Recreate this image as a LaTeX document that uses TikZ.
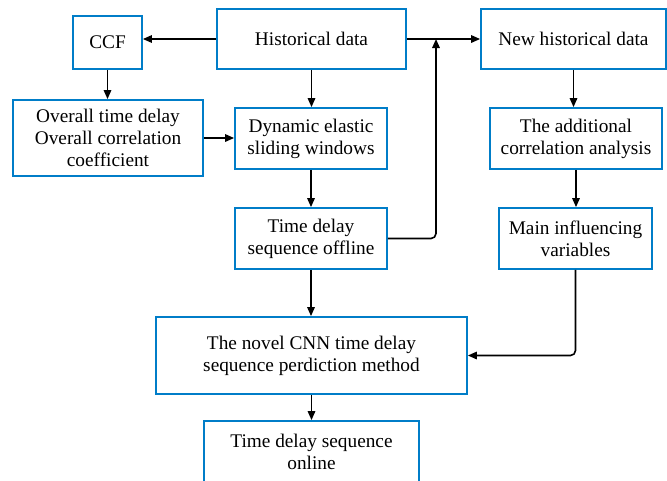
\documentclass[tikz,border=0pt]{standalone}
\usepackage{fontspec}
\setmainfont{Liberation Serif}
\newfontfamily\boxfont{Liberation Serif}
\usetikzlibrary{arrows.meta}
\definecolor{boxblue}{RGB}{0,125,200}
\begin{document}
\begin{tikzpicture}[x=1pt,y=-1pt,
  box/.style={draw=boxblue, line width=1.8pt, fill=white, inner sep=0pt, align=center,
    font=\boxfont\fontsize{19.3pt}{22pt}\selectfont},
  arr/.style={-{Triangle[length=9pt,width=7.5pt]}, line width=1.6pt, black}]
\useasboundingbox (0,0) rectangle (667,480);
\clip (0,0) rectangle (667,480);
\node[box, minimum width=69pt, minimum height=53pt] (ccf) at (107.5,42.5) {CCF};
\node[box, minimum width=189pt, minimum height=60pt] (hist) at (311.5,39) {Historical data};
\node[box, minimum width=185pt, minimum height=60pt] (new) at (573.5,39) {New historical data};
\node[box, minimum width=190pt, minimum height=76pt] (ov) at (108,138) {Overall time delay\\Overall correlation\\coefficient};
\node[box, minimum width=152pt, minimum height=61pt] (dyn) at (311,138.5) {Dynamic elastic\\sliding windows};
\node[box, minimum width=172pt, minimum height=61pt] (add) at (576,138.5) {The additional\\correlation analysis};
\node[box, minimum width=152pt, minimum height=61pt] (off) at (311,238.5) {Time delay\\sequence offline};
\node[box, minimum width=153pt, minimum height=61pt] (main) at (575.5,238.5) {Main influencing\\variables};
\node[box, minimum width=311pt, minimum height=77pt] (nov) at (311.5,355.5) {The novel CNN time delay\\sequence perdiction method};
\node[box, minimum width=215pt, minimum height=62pt] (onl) at (311.5,452) {Time delay sequence\\online};
\coordinate (j) at (436,39);
\draw[arr] (hist.west) -- (hist.west -| ccf.east);
\draw[arr] (ccf.south) -- (ccf.south |- ov.north);
\draw[arr] (hist.south) -- (hist.south |- dyn.north);
\draw[arr] (ov.east) -- (ov.east -| dyn.west);
\draw[arr] (dyn.south) -- (dyn.south |- off.north);
\draw[arr] (hist.east) -- (new.west);
\draw[arr, rounded corners=5pt] (off.east) -| (j);
\draw[arr] (new.south) -- (new.south |- add.north);
\draw[arr] (add.south) -- (add.south |- main.north);
\draw[arr] (off.south) -- (off.south |- nov.north);
\draw[arr, rounded corners=5pt] (main.south) |- (nov.east);
\draw[arr] (nov.south) -- (nov.south |- onl.north);
\end{tikzpicture}
\end{document}
